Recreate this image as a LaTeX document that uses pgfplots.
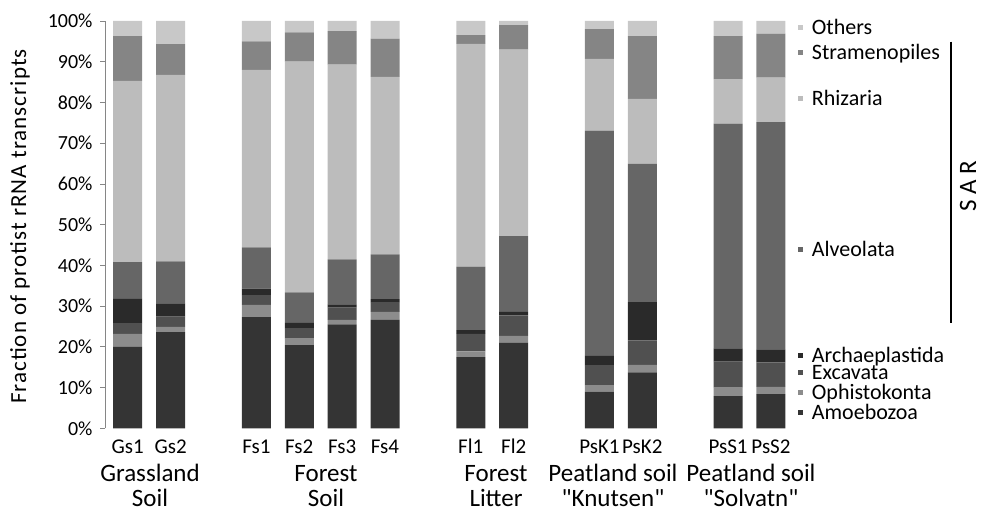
\documentclass[border=0pt]{standalone}
\usepackage{fontspec}
\setmainfont{Carlito}[Ligatures=TeXOff]
\usepackage{pgfplots}
\pgfplotsset{compat=1.18}
\usepackage{pgfplotstable}
\definecolor{cAmo}{HTML}{343434}
\definecolor{cOph}{HTML}{8C8C8C}
\definecolor{cExc}{HTML}{505050}
\definecolor{cArc}{HTML}{2A2A2A}
\definecolor{cAlv}{HTML}{666666}
\definecolor{cRhi}{HTML}{BCBCBC}
\definecolor{cStr}{HTML}{858585}
\definecolor{cOth}{HTML}{C8C8C8}
\definecolor{axgray}{HTML}{868686}
\pgfplotstableread{
x  Amo  Oph  Exc  Arc  Alv   Rhi   Str   Oth
0  20.0 3.2  2.6  6.0  9.0   44.5  11.0  3.7
1  23.6 1.3  2.5  3.3  10.3  45.8  7.5   5.7
3  27.3 3.0  2.4  1.6  10.1  43.6  7.0   5.0
4  20.4 1.6  2.6  1.3  7.5   56.6  7.2   2.8
5  25.5 1.1  3.0  0.8  11.1  47.8  8.2   2.5
6  26.6 2.0  2.4  0.7  11.0  43.6  9.4   4.3
8  17.5 1.4  4.3  0.9  15.6  54.7  2.1   3.5
9  21.0 1.7  5.0  0.9  18.6  45.8  6.0   1.0
11 9.0  1.6  4.9  2.3  55.3  17.6  7.3   2.0
12 13.7 1.9  6.0  9.4  33.9  16.0  15.4  3.7
14 7.9  2.1  6.4  3.2  55.2  10.9  10.6  3.7
15 8.4  1.8  6.0  3.2  55.8  10.9  10.8  3.1
}\data
\begin{document}
\begin{tikzpicture}[x=1pt,y=1pt]
\path[use as bounding box] (0,0) rectangle (981,511);
\begin{axis}[
  at={(105pt,82.7pt)}, anchor=south west,
  scale only axis, width=687.4pt, height=407.3pt,
  xmin=-0.53, xmax=15.5, ymin=0, ymax=100,
  ybar stacked, bar width=29pt,
  axis x line=bottom, axis y line=left,
  x axis line style={draw=none},
  y axis line style={-, draw=axgray, line width=0.8pt},
  xtick={0,1,3,4,5,6,8,9,11,12,14,15},
  xticklabels={Gs1,Gs2,Fs1,Fs2,Fs3,Fs4,Fl1,Fl2,PsK1,PsK2,PsS1,PsS2},
  xtick style={draw=none},
  xticklabel style={font=\fontsize{21}{21}\selectfont, anchor=base, yshift=-20pt},
  ytick={0,10,...,100},
  yticklabels={0\%,10\%,20\%,30\%,40\%,50\%,60\%,70\%,80\%,90\%,100\%},
  ytick style={draw=axgray, line width=0.8pt},
  tick align=outside, major tick length=5pt,
  yticklabel style={font=\fontsize{20}{20}\selectfont, anchor=east, xshift=-4pt},
  clip=false,
]
\addplot[fill=cAmo, draw=none] table[x=x, y=Amo] {\data};
\addplot[fill=cOph, draw=none] table[x=x, y=Oph] {\data};
\addplot[fill=cExc, draw=none] table[x=x, y=Exc] {\data};
\addplot[fill=cArc, draw=none] table[x=x, y=Arc] {\data};
\addplot[fill=cAlv, draw=none] table[x=x, y=Alv] {\data};
\addplot[fill=cRhi, draw=none] table[x=x, y=Rhi] {\data};
\addplot[fill=cStr, draw=none] table[x=x, y=Str] {\data};
\addplot[fill=cOth, draw=none] table[x=x, y=Oth] {\data};
\end{axis}
% y axis title
\node[rotate=90, font=\fontsize{23}{23}\selectfont\addfontfeature{LetterSpace=4.5}] at (20,284.5) {Fraction of protist rRNA transcripts};
% group labels
\foreach \cx/\la/\lb in {150/Grassland/Soil, 326/Forest/Soil, 496/Forest/Litter, 613/Peatland soil/"Knutsen", 751/Peatland soil/"Solvatn"}{
  \node[anchor=base, font=\fontsize{25}{25}\selectfont, inner sep=0pt] at (\cx,29.3) {\la};
  \node[anchor=base, font=\fontsize{25}{25}\selectfont, inner sep=0pt] at (\cx,4.6) {\lb};
}
% legend
\foreach \yb/\col/\txt in {35/cOth/Others, 60/cStr/Stramenopiles, 106/cRhi/Rhizaria, 256.7/cAlv/Alveolata, 362.3/cArc/Archaeplastida, 380/cExc/Excavata, 399.3/cOph/Ophistokonta, 419.3/cAmo/Amoebozoa}{
  \fill[\col] (797.8,{511-\yb+4.5}) rectangle ++(5,5);
  \node[anchor=base west, font=\fontsize{22}{22}\selectfont, inner sep=0pt] at (811.7,{511-\yb}) {\txt};
}
% SAR bracket
\draw[line width=2.5pt] (951,{511-41.7}) -- (951,{511-323.3});
\node[rotate=90, font=\fontsize{25}{25}\selectfont, inner sep=0pt] at (968,{511-186}) {S A R};
\end{tikzpicture}
\end{document}
